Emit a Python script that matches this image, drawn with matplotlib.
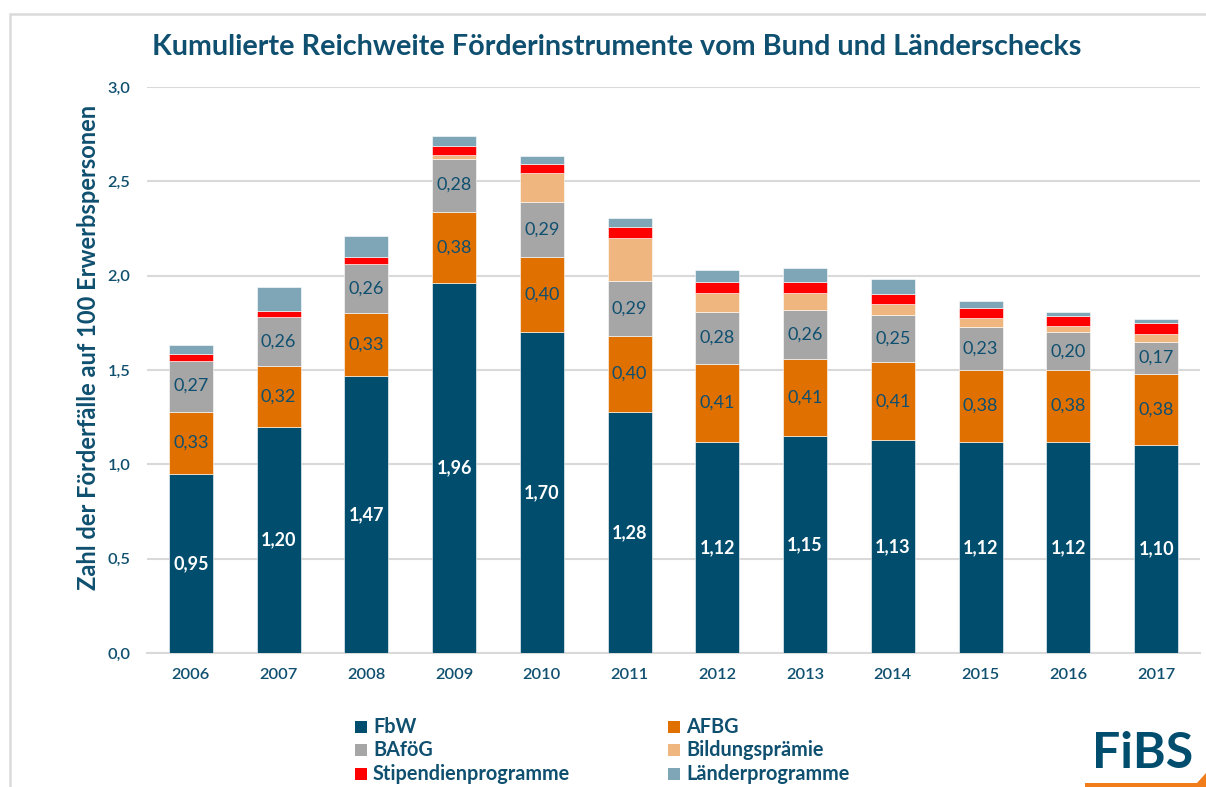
import matplotlib
matplotlib.use("Agg")
import matplotlib.pyplot as plt
from matplotlib.patches import Rectangle, Polygon
import numpy as np

years = ["2006", "2007", "2008", "2009", "2010", "2011", "2012", "2013", "2014", "2015", "2016", "2017"]
fbw = [0.95, 1.20, 1.47, 1.96, 1.70, 1.28, 1.12, 1.15, 1.13, 1.12, 1.12, 1.10]
afbg = [0.33, 0.32, 0.33, 0.38, 0.40, 0.40, 0.41, 0.41, 0.41, 0.38, 0.38, 0.38]
bafoeg = [0.27, 0.26, 0.26, 0.28, 0.29, 0.29, 0.28, 0.26, 0.25, 0.23, 0.20, 0.17]
bildung = [0.0, 0.0, 0.0, 0.018, 0.156, 0.231, 0.099, 0.089, 0.058, 0.044, 0.034, 0.042]
stipend = [0.033, 0.035, 0.037, 0.048, 0.047, 0.057, 0.056, 0.058, 0.055, 0.053, 0.051, 0.055]
laender = [0.047, 0.127, 0.114, 0.056, 0.039, 0.050, 0.067, 0.076, 0.081, 0.041, 0.025, 0.021]

series_names = ["FbW", "AFBG", "BAföG", "Bildungsprämie", "Stipendienprogramme", "Länderprogramme"]
colors = ["#004D6D", "#E07000", "#A6A6A6", "#F0B67F", "#FF0000", "#7FA6B6"]
yticks = [0.0, 0.5, 1.0, 1.5, 2.0, 2.5, 3.0]

TXT = "#0F4F6F"
FONT = "Lato"
plt.rcParams['font.family'] = [FONT, 'DejaVu Sans']

W, H = 1206, 787
fig = plt.figure(figsize=(W/100, H/100), dpi=100)
ax = fig.add_axes([147/W, 1-653/H, (1200-147)/W, (653-87)/H])

x = np.arange(len(years))
data = [fbw, afbg, bafoeg, bildung, stipend, laender]
bottom = np.zeros(len(years))
for vals, col in zip(data, colors):
    v = np.array(vals)
    ax.bar(x, v, width=0.5, bottom=bottom, color=col, edgecolor="white", linewidth=0.4, zorder=3)
    bottom += v

def fmt(v):
    return f"{v:.2f}".replace(".", ",")

for i in range(len(years)):
    ax.text(x[i], fbw[i]/2, fmt(fbw[i]), ha="center", va="center", color="white",
            fontsize=13, fontweight="bold", zorder=4)
    ax.text(x[i], fbw[i] + afbg[i]/2, fmt(afbg[i]), ha="center", va="center", color=TXT,
            fontsize=13, zorder=4)
    ax.text(x[i], fbw[i] + afbg[i] + bafoeg[i]/2, fmt(bafoeg[i]), ha="center", va="center", color=TXT,
            fontsize=13, zorder=4)

ax.set_xlim(-0.5, len(years) - 0.5)
ax.set_ylim(0, 3.0)
ax.set_yticks(yticks)
ax.set_yticklabels([f"{t:.1f}".replace(".", ",") for t in yticks])
ax.set_xticks(x)
ax.set_xticklabels(years)
ax.tick_params(axis="both", length=0, colors=TXT, labelsize=11.8)
ax.tick_params(axis="y", pad=12)
ax.tick_params(axis="x", pad=11)
for lab in ax.get_xticklabels() + ax.get_yticklabels():
    lab.set_fontweight("semibold")
ax.grid(axis="y", color="#D9D9D9", linewidth=1.5, zorder=0)
for s in ["left", "right", "top"]:
    ax.spines[s].set_visible(False)
ax.spines["bottom"].set_color("#D9D9D9")
ax.spines["bottom"].set_linewidth(1.5)

ax.set_ylabel("Zahl der Förderfälle auf 100 Erwerbspersonen", color=TXT, fontsize=17,
              fontweight="bold")
ax.yaxis.set_label_coords(-0.045, 0.54)

fig.text(152/W, 1-47/H, "Kumulierte Reichweite Förderinstrumente vom Bund und Länderschecks",
         ha="left", va="center", color=TXT, fontsize=20.7, fontweight="bold")

# legend (two columns, three rows)
leg_cols = [355, 668]
leg_rows = [727, 750, 774]
for k, (name, col) in enumerate(zip(series_names, colors)):
    cx = leg_cols[k % 2]
    cy = leg_rows[k // 2]
    fig.add_artist(Rectangle((cx/W, 1-(cy+6)/H), 12/W, 12/H, transform=fig.transFigure,
                             facecolor=col, edgecolor="none"))
    fig.text((cx+18)/W, 1-cy/H, name, ha="left", va="center", color=TXT,
             fontsize=14.3, fontweight="bold")

# frame
fig.add_artist(Rectangle((10/W, -0.1), 1.2, 1-14/H+0.1, transform=fig.transFigure,
                         fill=False, edgecolor="#DADADA", linewidth=1.8))

# logo
fig.text(1143/W, 1-753/H, "FiBS", ha="center", va="center", color="#004D6D",
         fontsize=36, fontweight="bold")
fig.add_artist(Polygon([[1085/W, 0], [1085/W, 4/H], [1197/W, 4/H], [1206/W, 14/H], [1206/W, 0]],
                       closed=True, transform=fig.transFigure,
                       facecolor="#F07D1A", edgecolor="none"))

fig.savefig("out.png", dpi=100)
